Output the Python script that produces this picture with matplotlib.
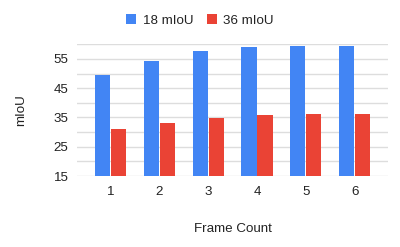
import matplotlib
matplotlib.use("Agg")
import matplotlib.pyplot as plt
import numpy as np

categories = ["1", "2", "3", "4", "5", "6"]
series_18 = [49.5, 54.2, 57.6, 59.2, 59.4, 59.4]
series_36 = [31.0, 33.0, 34.9, 35.7, 36.1, 36.1]
yticks = [15, 25, 35, 45, 55]

plt.rcParams['font.family'] = ['Liberation Sans', 'DejaVu Sans']

fig = plt.figure(figsize=(4.0, 2.47), dpi=100)
ax = fig.add_axes([0.192, 0.2874, 0.779, 0.5332])

x = np.arange(1, len(categories) + 1)
w = 0.31
blue = "#4285F4"
red = "#EA4335"
b1 = ax.bar(x - w / 2 - 0.008, series_18, width=w, color=blue, label="18 mIoU", zorder=3)
b2 = ax.bar(x + w / 2 + 0.008, series_36, width=w, color=red, label="36 mIoU", zorder=3)

fs = 9.6
ax.set_ylim(15, 60)
ax.set_xlim(1 - 0.69, 6 + 0.69)
ax.set_yticks(yticks)
ax.set_yticks(np.arange(15, 61, 5), minor=True)
ax.set_xticks(x)
ax.set_xticklabels(categories)
ax.grid(axis='y', which='both', color='#dddddd', linewidth=1.0, zorder=0)
for s in ax.spines.values():
    s.set_visible(False)
ax.tick_params(axis='both', which='both', length=0, labelsize=fs, colors='#222222')
ax.tick_params(axis='y', pad=6)
ax.tick_params(axis='x', pad=7)

ax.set_ylabel("mIoU", fontsize=fs, color='#222222', labelpad=19)
ax.set_xlabel("Frame Count", fontsize=fs, color='#222222', labelpad=18)

leg = fig.legend(handles=[b1, b2], loc='center', bbox_to_anchor=(0.5, 1 - 20.5 / 247), ncol=2,
                 frameon=False, fontsize=fs, handlelength=0.75, handleheight=0.75,
                 handletextpad=0.5, columnspacing=1.0)
for t in leg.get_texts():
    t.set_color('#222222')

fig.savefig("out.png", dpi=100)
